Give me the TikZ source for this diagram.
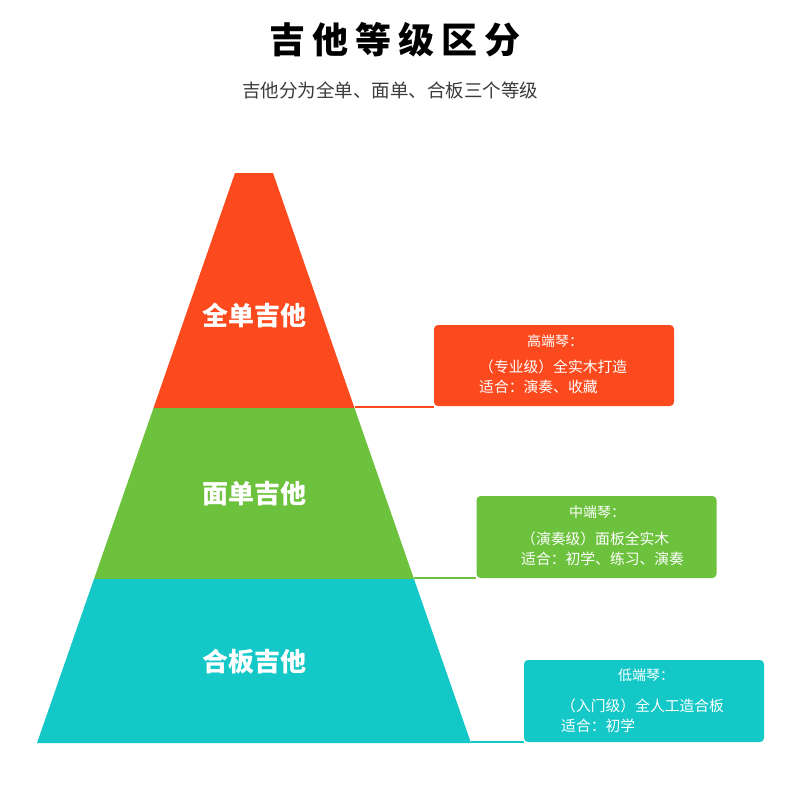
\documentclass[tikz,border=0pt]{standalone}
\usepackage{fontspec}
\newfontfamily\cjk{Noto Sans CJK SC}
\usetikzlibrary{positioning}
\definecolor{GRed}{HTML}{FC4A1E}
\definecolor{GGreen}{HTML}{6CC23C}
\definecolor{GTeal}{HTML}{14C8C8}
\definecolor{GText}{HTML}{3A3A3A}
\tikzset{
	tiertext/.style={text=white, font=\cjk\bfseries\fontsize{26}{30}\selectfont},
	infobox/.style={fill=#1, rounded corners=4pt, minimum width=240pt, inner sep=0pt},
	head/.style={text=white, font=\cjk\fontsize{14}{18}\selectfont},
	body/.style={text=white, align=left, anchor=west, inner sep=0pt,
		font=\cjk\fontsize{14.8}{20}\selectfont},
	link/.style={draw=#1, line width=2.5pt}
}

\begin{document}
\begin{tikzpicture}[x=1pt, y=-1pt]
	\useasboundingbox (0,0) rectangle (790,800);
	
	% -- Title ----------------------------------------------------
	\node[font=\cjk\bfseries\fontsize{36}{40}\selectfont] (title) at (395,40)
	{吉\hspace{7pt}他\hspace{7pt}等\hspace{7pt}级\hspace{7pt}区\hspace{7pt}分};
	\node[text=GText, font=\cjk\fontsize{18.5}{22}\selectfont] (subtitle) at (390,90)
	{吉他分为全单、面单、合板三个等级};
	
	% -- Pyramid corners ------------------------------------------
	\coordinate (tl) at (235,173);
	\coordinate (tr) at (273,173);
	\coordinate (rl) at (153.5,408);
	\coordinate (rr) at (354.5,408);
	\coordinate (gl) at (94,579);
	\coordinate (gr) at (414,579);
	\coordinate (bl) at (37,743);
	\coordinate (br) at (471,743);
	
	% -- Pyramid tiers --------------------------------------------
	\fill[GRed] (tl) -- (tr) -- (rr) -- (rl) -- cycle;
	\fill[GGreen] (rl) -- (rr) -- (gr) -- (gl) -- cycle;
	\fill[GTeal] (gl) -- (gr) -- (br) -- (bl) -- cycle;
	
	\node[tiertext] (tierA) at (254,315) {全单吉他};
	\node[tiertext] (tierB) at (254,494) {面单吉他};
	\node[tiertext] (tierC) at (254,662) {合板吉他};
	
	% -- Info boxes -----------------------------------------------
	\node[infobox=GRed, minimum height=81pt] (boxA) at (554,365.5) {};
	\node[head] (headA) at (555,341) {高端琴：};
	\node[body] (bodyA) at (479,377) {（专业级）全实木打造\\适合：演奏、收藏};
	
	\node[infobox=GGreen, minimum height=82pt] (boxB) at (596.5,537) {};
	\node[head] (headB) at (597,512) {中端琴：};
	\node[body] (bodyB) at (521,549) {（演奏级）面板全实木\\适合：初学、练习、演奏};
	
	\node[infobox=GTeal, minimum height=82pt] (boxC) at (644,701) {};
	\node[head] (headC) at (646,675) {低端琴：};
	\node[body] (bodyC) at (561,716) {（入门级）全人工造合板\\适合：初学};
	
	% -- Connectors -----------------------------------------------
	\draw[link=GRed] (rr) ++(0,-1.2) coordinate (ra) -- (ra -| boxA.west);
	\draw[link=GGreen] (gr) ++(0,-1.2) coordinate (ga) -- (ga -| boxB.west);
	\draw[link=GTeal] (br) ++(0,-1.2) coordinate (ba) -- (ba -| boxC.west);
	
\end{tikzpicture}
\end{document}
